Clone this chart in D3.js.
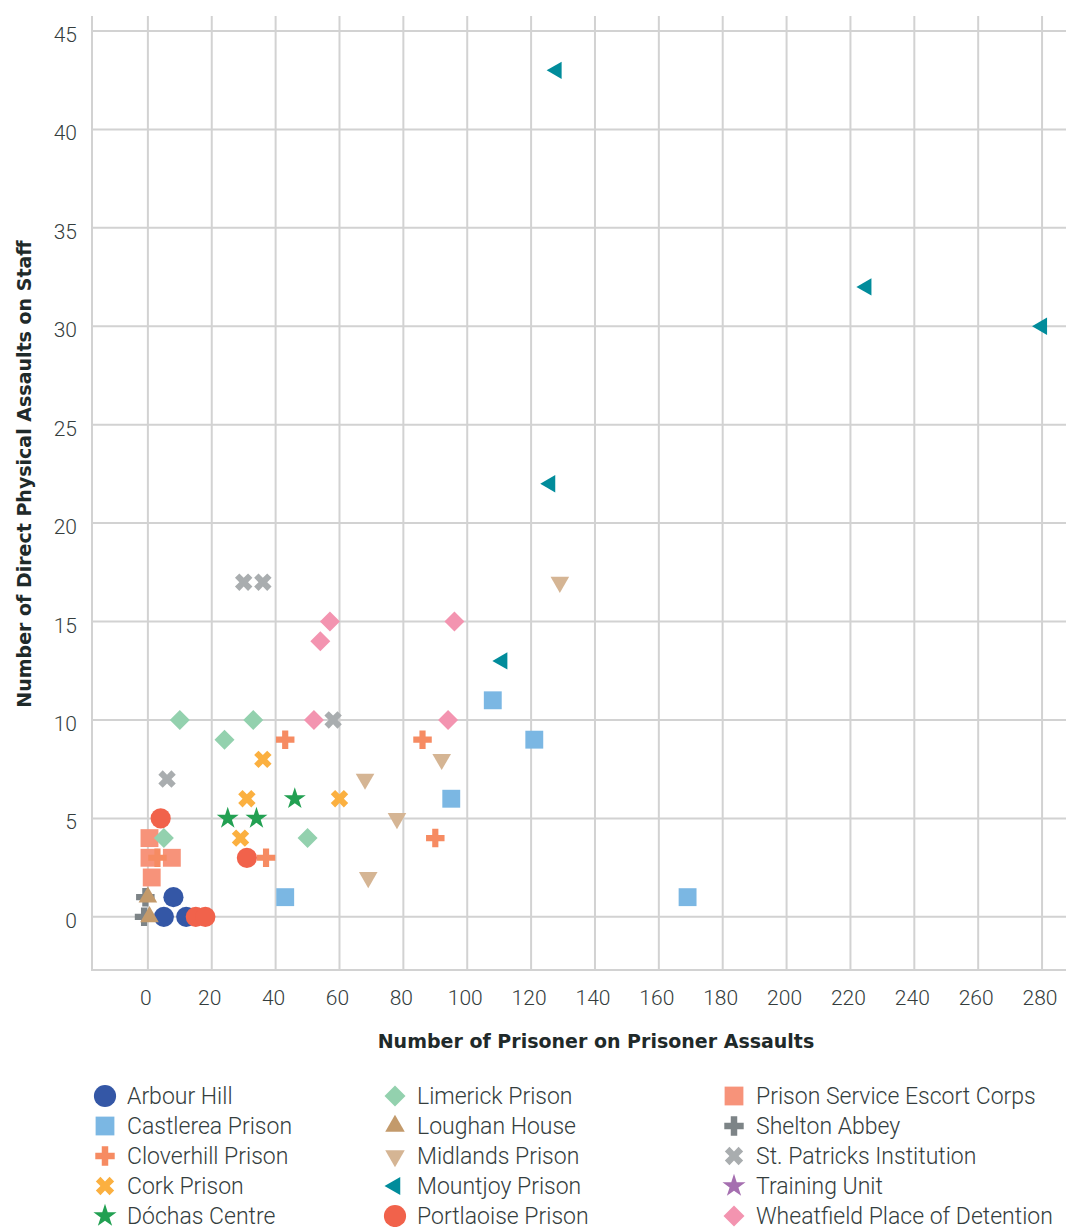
<!DOCTYPE html>
<meta charset="utf-8">
<title>Prison assaults scatter</title>
<style>
  body { margin: 0; background: #fff; }
  text { font-family: Roboto, "Noto Sans", sans-serif; fill: #343d3d; }
  .grid line { stroke: #d2d2d2; stroke-width: 2px; }
  .title { font-family: "DejaVu Sans", sans-serif; font-size: 19px; font-weight: 700; fill: #1f2a2a; }
</style>
<body>
<script src="https://cdn.jsdelivr.net/npm/d3@7/dist/d3.min.js"></script>
<script>

const prisons = [
  "Arbour Hill", "Castlerea Prison", "Cloverhill Prison", "Cork Prison", "Dóchas Centre",
  "Limerick Prison", "Loughan House", "Midlands Prison", "Mountjoy Prison", "Portlaoise Prison",
  "Prison Service Escort Corps", "Shelton Abbey", "St. Patricks Institution", "Training Unit",
  "Wheatfield Place of Detention"
];

// [prisoner on prisoner, direct physical on staff]
const arbourHill = [[5, 0], [12, 0], [8, 1]];
const castlerea = [[108, 11], [121, 9], [95, 6], [43, 1], [169, 1]];
const cloverhill = [[43, 9], [86, 9], [90, 4], [37, 3], [3, 3]];
const cork = [[36, 8], [31, 6], [60, 6], [29, 4]];
const dochas = [[25, 5], [34, 5], [46, 6]];
const limerick = [[10, 10], [33, 10], [24, 9], [5, 4], [50, 4]];
const loughan = [[0, 1], [0.5, 0]];
const midlands = [[129, 17], [92, 8], [68, 7], [78, 5], [69, 2]];
const mountjoy = [[128, 43], [225, 32], [280, 30], [126, 22], [111, 13]];
const portlaoise = [[4, 5], [31, 3], [15, 0], [18, 0]];
const escortCorps = [[0.5, 4], [0.5, 3], [7.5, 3], [1.2, 2]];
const shelton = [[-0.8, 1], [-1.2, 0]];
const stPatricks = [[30, 17], [36, 17], [58, 10], [6, 7]];
const trainingUnit = [];
const wheatfield = [[57, 15], [54, 14], [52, 10], [96, 15], [94, 10]];

const seriesValues = [arbourHill, castlerea, cloverhill, cork, dochas, limerick, loughan,
  midlands, mountjoy, portlaoise, escortCorps, shelton, stPatricks, trainingUnit, wheatfield];

const xTicks = d3.range(0, 281, 20);
const yTicks = d3.range(0, 46, 5);

const colors = ["#3457a6", "#7bb7e3", "#f68b62", "#fbb040", "#22a052", "#93d1ae", "#c39a6b",
  "#d5b594", "#018c9b", "#f1624b", "#f7937a", "#7d8487", "#a9adaf", "#a56fb0", "#f394b0"];

// shape, size, rotation
const diamond = { draw(ctx, size) { const r = Math.sqrt(size) / 2 * Math.SQRT2;
  ctx.moveTo(0, -r); ctx.lineTo(r, 0); ctx.lineTo(0, r); ctx.lineTo(-r, 0); ctx.closePath(); } };
const shapes = [
  [d3.symbolCircle, 320, 0], [d3.symbolSquare, 320, 0], [d3.symbolCross, 190, 0],
  [d3.symbolCross, 190, 45], [d3.symbolStar, 150, 0], [diamond, 200, 0],
  [d3.symbolTriangle, 150, 0], [d3.symbolTriangle, 150, 180], [d3.symbolTriangle, 130, -90],
  [d3.symbolCircle, 320, 0], [d3.symbolSquare, 320, 0], [d3.symbolCross, 190, 0],
  [d3.symbolCross, 190, 45], [d3.symbolStar, 150, 0], [diamond, 200, 0]
];

const width = 1066, height = 1227;
const x = d3.scaleLinear().domain([-17.5, 287.5]).range([92, 1066]);
const y = d3.scaleLinear().domain([-2.7, 45.76]).range([970, 16]);

const svg = d3.select("body").append("svg")
    .attr("width", width)
    .attr("height", height);

const grid = svg.append("g").attr("class", "grid");
grid.selectAll(".v").data(xTicks).enter().append("line")
    .attr("x1", d => x(d)).attr("x2", d => x(d))
    .attr("y1", 16).attr("y2", 970);
grid.selectAll(".h").data(yTicks).enter().append("line")
    .attr("x1", 92).attr("x2", 1066)
    .attr("y1", d => y(d)).attr("y2", d => y(d));
grid.append("line").attr("x1", 92).attr("x2", 92).attr("y1", 16).attr("y2", 971);
grid.append("line").attr("x1", 91).attr("x2", 1066).attr("y1", 970).attr("y2", 970);

svg.append("g").selectAll("text").data(xTicks).enter().append("text")
    .attr("x", d => x(d) - 2)
    .attr("y", 1005)
    .attr("text-anchor", "middle")
    .style("font-size", "21px").style("font-weight", 300)
    .text(d => d);

svg.append("g").selectAll("text").data(yTicks).enter().append("text")
    .attr("x", 77)
    .attr("y", d => y(d) + 11)
    .attr("text-anchor", "end")
    .style("font-size", "21px").style("font-weight", 300)
    .text(d => d);

svg.append("text")
    .attr("class", "title")
    .attr("x", 596).attr("y", 1048)
    .attr("text-anchor", "middle")
    .text("Number of Prisoner on Prisoner Assaults");

svg.append("text")
    .attr("class", "title")
    .attr("transform", "translate(31,474) rotate(-90)")
    .attr("text-anchor", "middle")
    .text("Number of Direct Physical Assaults on Staff");

const symbolPath = i => d3.symbol().type(shapes[i][0]).size(shapes[i][1])();

// escort corps and shelton abbey sit underneath the rest
const drawOrder = [10, 11, 0, 1, 2, 3, 4, 5, 6, 7, 8, 9, 12, 13, 14];
const points = [];
drawOrder.forEach(i => seriesValues[i].forEach(v => points.push({ i, v })));

svg.append("g").selectAll("path").data(points).enter().append("path")
    .attr("d", d => symbolPath(d.i))
    .attr("transform", d => `translate(${x(d.v[0])},${y(d.v[1])}) rotate(${shapes[d.i][2]})`)
    .style("fill", d => colors[d.i]);

// legend
const legend = svg.append("g").selectAll("g").data(prisons).enter().append("g")
    .attr("transform", (d, i) => `translate(${[105, 395, 734][Math.floor(i / 5)]},${1096 + (i % 5) * 30})`);
legend.append("path")
    .attr("d", (d, i) => symbolPath(i))
    .attr("transform", (d, i) => `rotate(${shapes[i][2]}) scale(${i === 0 || i === 9 ? 1.1 : 1.05})`)
    .style("fill", (d, i) => colors[i]);
legend.append("text")
    .attr("x", 22).attr("y", 8)
    .style("font-size", "23px").style("font-weight", 300)
    .text(d => d);

</script>
</body>
